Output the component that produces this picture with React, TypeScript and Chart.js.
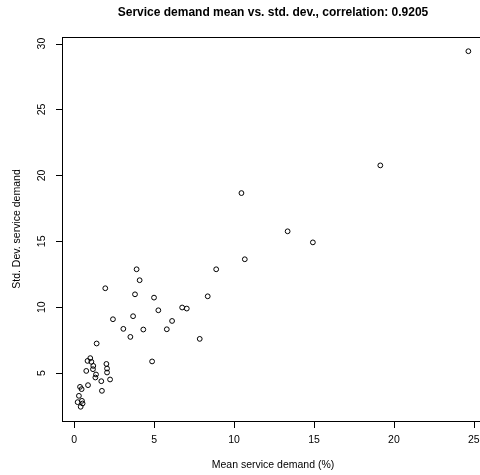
import React, { useEffect, useRef } from "react";
import { Chart, registerables } from "chart.js";

Chart.register(...registerables);

const meanDemand: number[] = [
  24.66, 19.15, 10.46, 13.35, 14.93, 10.67, 3.9, 8.88, 4.09, 1.94, 3.8, 4.99,
  8.35, 6.75, 7.04, 7.85, 5.26, 2.42, 3.68, 6.12, 3.07, 4.32, 5.79, 3.51, 4.87,
  1.4, 0.83, 1.0, 1.07, 1.19, 1.17, 0.75, 2.01, 2.05, 2.05, 1.36, 1.32, 2.24,
  1.69, 0.86, 1.73, 0.36, 0.46, 0.29, 0.21, 0.48, 0.52, 0.4,
];
const stdDemand: number[] = [
  29.42, 20.76, 18.66, 15.76, 14.92, 13.64, 12.88, 12.88, 12.05, 11.44, 10.98,
  10.73, 10.83, 9.98, 9.9, 7.6, 9.77, 9.09, 9.32, 8.96, 8.36, 8.31, 8.33, 7.75,
  5.89, 7.25, 5.93, 6.14, 5.86, 5.55, 5.3, 5.17, 5.7, 5.35, 5.05, 4.9, 4.67,
  4.52, 4.39, 4.09, 3.66, 3.96, 3.79, 3.28, 2.8, 2.9, 2.7, 2.45,
];
const xTicks: number[] = [0, 5, 10, 15, 20, 25];
const yTicks: number[] = [5, 10, 15, 20, 25, 30];
const titleText = "Service demand mean vs. std. dev., correlation: 0.9205";
const xTitle = "Mean service demand (%)";
const yTitle = "Std. Dev. service demand";

const FONT = "'Liberation Sans', Arial, Helvetica, sans-serif";

function ext(v: number[]): [number, number] {
  const lo = Math.min(...v);
  const hi = Math.max(...v);
  const r = hi - lo;
  return [lo - 0.04 * r, hi + 0.04 * r];
}

const rAxesPlugin = {
  id: "rAxes",
  afterDraw(chart: any) {
    const { ctx, chartArea } = chart;
    const xs = chart.scales.x;
    const ys = chart.scales.y;
    const { left, right, top, bottom } = chartArea;
    ctx.save();
    ctx.strokeStyle = "#000";
    ctx.lineWidth = 1;
    ctx.strokeRect(Math.round(left) + 0.5, Math.round(top) + 0.5, Math.round(right - left), Math.round(bottom - top));
    ctx.fillStyle = "#000";
    ctx.font = `10.5px ${FONT}`;
    ctx.textAlign = "center";
    ctx.textBaseline = "middle";
    ctx.beginPath();
    xTicks.forEach((t) => {
      const px = Math.round(xs.getPixelForValue(t)) + 0.5;
      ctx.moveTo(px, Math.round(bottom) + 0.5);
      ctx.lineTo(px, Math.round(bottom) + 7);
    });
    yTicks.forEach((t) => {
      const py = Math.round(ys.getPixelForValue(t)) + 0.5;
      ctx.moveTo(Math.round(left) + 0.5, py);
      ctx.lineTo(Math.round(left) - 6, py);
    });
    ctx.stroke();
    xTicks.forEach((t) => {
      ctx.fillText(String(t), xs.getPixelForValue(t), bottom + 19);
    });
    yTicks.forEach((t) => {
      ctx.save();
      ctx.translate(left - 20, ys.getPixelForValue(t));
      ctx.rotate(-Math.PI / 2);
      ctx.fillText(String(t), 0, 0);
      ctx.restore();
    });
    const cx = (left + right) / 2;
    const cy = (top + bottom) / 2;
    ctx.fillText(xTitle, cx, bottom + 44);
    ctx.save();
    ctx.translate(left - 45, cy);
    ctx.rotate(-Math.PI / 2);
    ctx.fillText(yTitle, 0, 0);
    ctx.restore();
    ctx.font = `bold 12px ${FONT}`;
    ctx.fillText(titleText, cx, 13);
    ctx.restore();
  },
};

export default function App() {
  const ref = useRef<HTMLCanvasElement | null>(null);
  useEffect(() => {
    document.body.style.margin = "0";
    const [xmin, xmax] = ext(meanDemand);
    const [ymin, ymax] = ext(stdDemand);
    const chart = new Chart(ref.current as HTMLCanvasElement, {
      type: "scatter",
      data: {
        datasets: [
          {
            data: meanDemand.map((x, i) => ({ x, y: stdDemand[i] })),
            pointRadius: 2.4,
            pointBorderWidth: 1,
            pointBorderColor: "#000",
            pointBackgroundColor: "rgba(0,0,0,0)",
            pointHoverRadius: 2.4,
          },
        ],
      },
      options: {
        responsive: false,
        animation: false,
        events: [],
        layout: { padding: { left: 62, right: 6, top: 37, bottom: 54 } },
        plugins: { legend: { display: false }, tooltip: { enabled: false }, title: { display: false } },
        scales: {
          x: { type: "linear", min: xmin, max: xmax, display: false },
          y: { type: "linear", min: ymin, max: ymax, display: false },
        },
      },
      plugins: [rAxesPlugin],
    });
    return () => chart.destroy();
  }, []);
  return (
    <div style={{ position: "fixed", left: 0, top: 0, width: 480, height: 475, overflow: "hidden", background: "#fff" }}>
      <canvas ref={ref} width={490} height={475} style={{ display: "block" }} />
    </div>
  );
}
